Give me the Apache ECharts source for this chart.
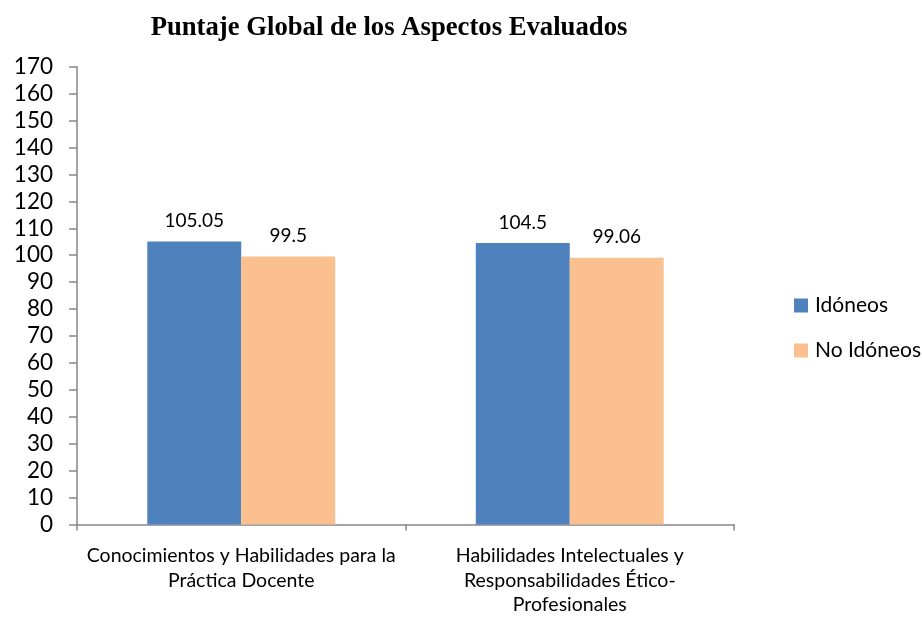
<!DOCTYPE html>
<html><head><meta charset="utf-8">
<script src="https://cdn.jsdelivr.net/npm/echarts@6/dist/echarts.min.js"></script>
<style>html,body{margin:0;padding:0;background:#fff;overflow:hidden}#c{width:922px;height:617px}</style>
</head><body><div id="c"></div>
<script>
const categories = ["Conocimientos y Habilidades para la\nPráctica Docente", "Habilidades Intelectuales y\nResponsabilidades Ético-\nProfesionales"];
const idoneos = [105.05, 104.5];
const noIdoneos = [99.5, 99.06];
const seriesNames = ["Idóneos", "No Idóneos"];
const chart = echarts.init(document.getElementById('c'));
const axisColor = '#868686';
chart.setOption({
  animation: false,
  title: {text: 'Puntaje Global de los Aspectos Evaluados', left: 384, top: 10, textAlign: 'center',
    textStyle: {fontFamily: 'Liberation Serif', fontWeight: 'bold', fontSize: 26.7, color: '#000'}},
  legend: {orient: 'vertical', left: 789, top: 290, itemWidth: 14, itemHeight: 14, itemGap: 24,
    icon: 'rect', textStyle: {fontFamily: 'Lato', fontSize: 21, color: '#000', padding: [0,0,0,2]}, data: seriesNames},
  grid: {left: 77, width: 657, top: 66.7, height: 463.3, containLabel: false},
  xAxis: {type: 'category', data: categories,
    axisLine: {lineStyle: {color: axisColor, width: 1.5}},
    axisTick: {show: true, length: 6, lineStyle: {color: axisColor, width: 1.5}},
    axisLabel: {margin: 19, lineHeight: 24.5, fontFamily: 'Lato', fontSize: 19.5, color: '#000', interval: 0}},
  yAxis: {type: 'value', min: 0, max: 170, interval: 10,
    axisLine: {show: true, lineStyle: {color: axisColor, width: 1.5}},
    axisTick: {show: true, length: 8, lineStyle: {color: axisColor, width: 1.5}},
    splitLine: {show: false},
    axisLabel: {margin: 24, fontFamily: 'Lato', fontSize: 22.5, color: '#000'}},
  series: [
    {name: seriesNames[0], type: 'bar', data: idoneos, barGap: '0%', barCategoryGap: '42.8%',
      itemStyle: {color: '#4F81BD'},
      label: {show: true, position: 'top', distance: 11, fontFamily: 'Lato', fontSize: 19, color: '#000'}},
    {name: seriesNames[1], type: 'bar', data: noIdoneos, barGap: '0%', barCategoryGap: '42.8%',
      itemStyle: {color: '#FAC090'},
      label: {show: true, position: 'top', distance: 11, fontFamily: 'Lato', fontSize: 19, color: '#000'}}
  ]
});
</script></body></html>
